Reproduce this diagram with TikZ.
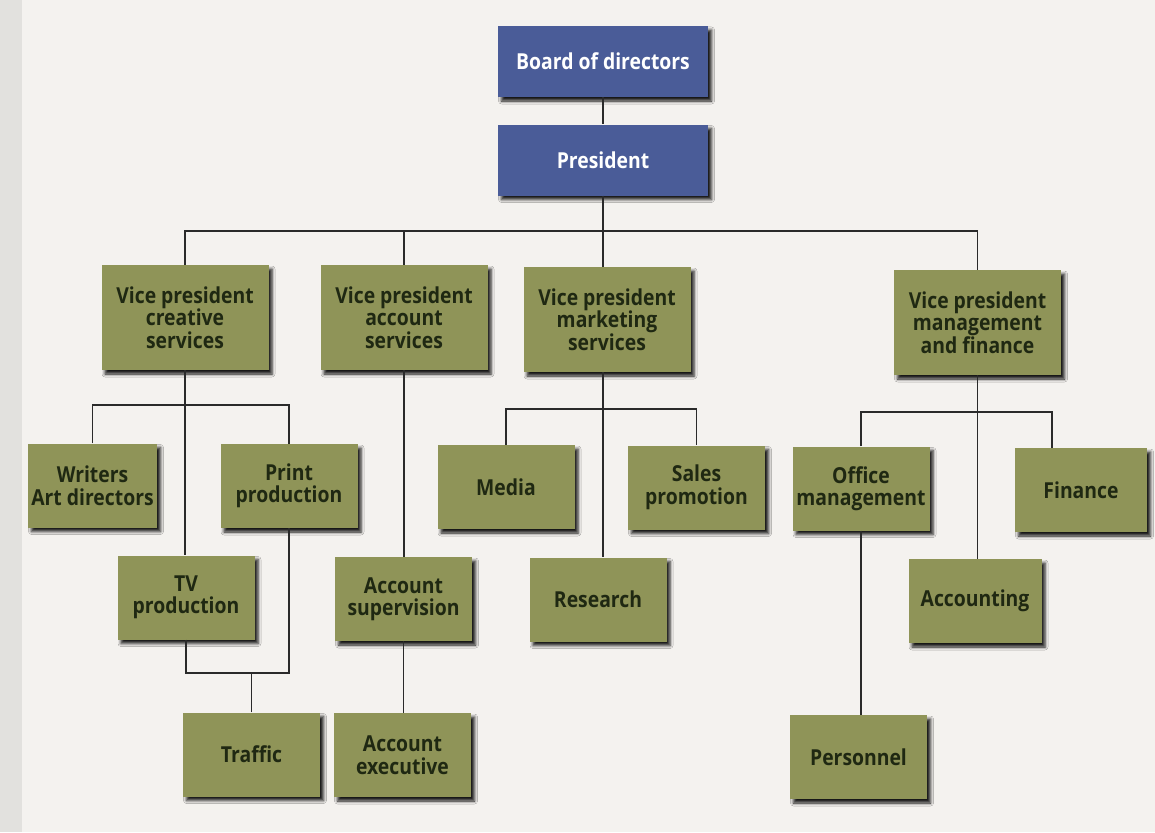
\documentclass[tikz,border=0pt]{standalone}
\usepackage{fontspec}
\setmainfont{Open Sans}[FakeStretch=0.88]
\usetikzlibrary{shadows.blur}

\definecolor{pagebg}{HTML}{F4F2EF}
\definecolor{pageedge}{HTML}{E2E1DE}
\definecolor{topblue}{HTML}{4A5C98}
\definecolor{olivebox}{HTML}{8F9458}
\definecolor{olivetext}{HTML}{1F2812}
\definecolor{linkcol}{HTML}{2A2A2A}

\tikzset{
  unitbox/.style={rectangle, inner sep=0pt, align=center,
    minimum width=137pt, minimum height=84pt,
    font=\bfseries\fontsize{22}{22.5}\selectfont,
    blur shadow={shadow xshift=3.5pt, shadow yshift=-4pt,
      shadow blur radius=3pt, shadow opacity=90}},
  topbox/.style={unitbox, fill=topblue, text=white,
    minimum width=210pt, minimum height=71pt},
  deptbox/.style={unitbox, fill=olivebox, text=olivetext},
  vpbox/.style={deptbox, minimum width=167pt, minimum height=105pt},
  link/.style={draw=linkcol, line width=1.3pt}
}

\begin{document}
\begin{tikzpicture}[x=1pt, y=-1pt]
  % page
  \fill[pagebg] (0,0) rectangle (1155,832);
  \fill[pageedge] (0,0) rectangle (22,832);
  \useasboundingbox (0,0) rectangle (1155,832);

  % top of the chart
  \node[topbox] (board) at (603,61.5) {Board of directors};
  \node[topbox] (pres)  at (603,160)  {President};

  % vice presidents
  \node[vpbox] (vpc) at (185,317.5) {Vice president\\creative\\services};
  \node[vpbox] (vpa) at (404,317.5) {Vice president\\account\\services};
  \node[vpbox] (vpm) at (607,319.5) {Vice president\\marketing\\services};
  \node[vpbox] (vpf) at (977.5,322.5) {Vice president\\management\\and finance};

  % creative services
  \node[deptbox, minimum width=129pt] (writers) at (92.5,485.5) {Writers\\Art directors};
  \node[deptbox] (print)   at (289,486)   {Print\\production};
  \node[deptbox] (tv)      at (186,597.5) {TV\\production};
  \node[deptbox] (traffic) at (251.5,754.5) {Traffic};

  % account services
  \node[deptbox] (accsup) at (403.5,599) {Account\\supervision};
  \node[deptbox] (accexe) at (402.5,755) {Account\\executive};

  % marketing services
  \node[deptbox] (media)    at (506,487)   {Media};
  \node[deptbox] (sales)    at (696.5,487.5) {Sales\\promotion};
  \node[deptbox] (research) at (598,599.5) {Research};

  % management and finance
  \node[deptbox] (office)     at (861,488.5) {Office\\management};
  \node[deptbox, minimum width=132pt] (finance) at (1081,490) {Finance};
  \node[deptbox, minimum width=133pt] (accounting) at (975,601) {Accounting};
  \node[deptbox] (personnel)  at (858.5,757) {Personnel};

  % bus levels
  \coordinate (vpbus)   at (0,231);
  \coordinate (crbus)   at (0,405);
  \coordinate (prodbus) at (0,673);
  \coordinate (mkbus)   at (0,409);
  \coordinate (fnbus)   at (0,412);
  \coordinate (finJ)    at ([xshift=-29pt]finance.north);

  % connectors
  \draw[link] (board.south) -- (pres.north);
  \draw[link] (pres.south) -- (pres.south |- vpm.north);
  \draw[link] (vpc.north) -- (vpc.north |- vpbus) -| (vpf.north);
  \draw[link] (vpa.north) -- (vpa.north |- vpbus);

  \draw[link] (vpc.south) -- (vpc.south |- tv.north);
  \draw[link] (writers.north) -- (writers.north |- crbus) -| (print.north);
  \draw[link] (tv.south) -- (tv.south |- prodbus) -| (print.south);
  \draw[link] (traffic.north) -- (traffic.north |- prodbus);

  \draw[link] (vpa.south) -- (vpa.south |- accsup.north);
  \draw[link] (accsup.south) -- (accsup.south |- accexe.north);

  \draw[link] (pres.south |- vpm.south) -- (pres.south |- research.north);
  \draw[link] (media.north) -- (media.north |- mkbus) -| (sales.north);

  \draw[link] (vpf.south) -- (vpf.south |- accounting.north);
  \draw[link] (office.north) -- (office.north |- fnbus) -| (finJ);
  \draw[link] (office.south) -- (office.south |- personnel.north);
\end{tikzpicture}
\end{document}
